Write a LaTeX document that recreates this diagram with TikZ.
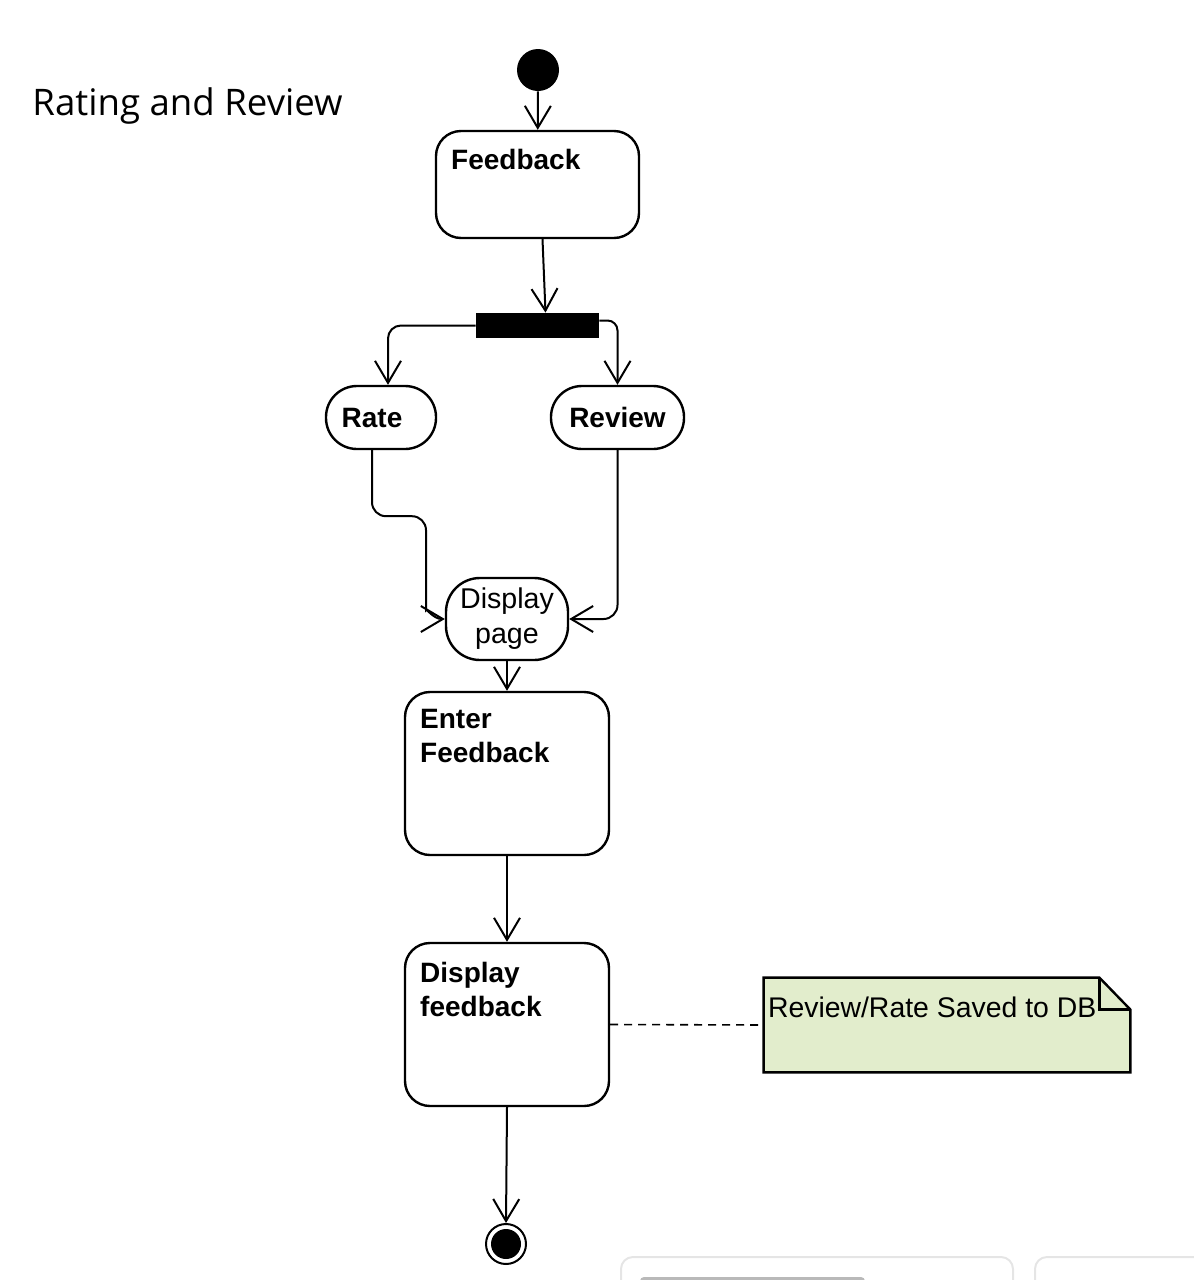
\documentclass[tikz,border=0pt]{standalone}
\usepackage{fontspec}
\setmainfont{Liberation Sans}
\newfontfamily\titlefont{Open Sans}
\usetikzlibrary{arrows.meta}
\definecolor{notegreen}{RGB}{226,237,204}
\begin{document}
\begin{tikzpicture}[x=0.5pt,y=-0.5pt,every node/.style={font=\fontsize{14}{17}\selectfont},
  act/.style={draw,line width=1.2pt,rounded corners=12.5pt,inner sep=0pt,minimum width=102pt},
  pill/.style={draw,line width=1.2pt,rounded corners=15.5pt,minimum height=31.5pt,inner sep=0pt,font=\fontsize{14}{17}\selectfont\bfseries},
  boxtxt/.style={anchor=north west,inner sep=0pt,align=left,font=\fontsize{14}{17}\selectfont\bfseries},
  flow/.style={line width=1pt,-{Straight Barb[length=11pt,width=13pt]}}]
  \useasboundingbox (0,0) rectangle (1194,1280);
  \node[anchor=base west,inner sep=0pt,font=\titlefont\fontsize{18.3}{22}\selectfont] (title) at (32,115) {Rating and Review};
  \node[circle,fill,minimum size=21pt,inner sep=0pt] (init) at (538,70) {};
  \node[act,minimum height=53.5pt,minimum width=101.5pt] (fb) at (537.5,184.5) {};
  \node[boxtxt] (fbt) at ([shift={(16,19)}]fb.north west) {Feedback};
  \node[fill,minimum width=61.5pt,minimum height=12.5pt,inner sep=0pt] (fork) at (537.5,325.5) {};
  \node[pill,minimum width=55pt] (rate) at (381,417.5) {Rate\hspace*{9pt}};
  \node[pill,minimum width=66.5pt] (rev) at (617.5,417.5) {Review};
  \node[draw,line width=1.2pt,rounded corners=17pt,minimum width=61pt,minimum height=41pt,inner sep=0pt,align=center,font=\fontsize{14.3}{17.5}\selectfont] (disp) at (507,619) {Display\\page};
  \node[act,minimum height=81.5pt] (enter) at (507,773.5) {};
  \node[boxtxt] (entt) at ([shift={(16,18)}]enter.north west) {Enter\\Feedback};
  \node[act,minimum height=81.5pt] (show) at (507,1024.5) {};
  \node[boxtxt] (shwt) at ([shift={(16,20)}]show.north west) {Display\\feedback};
  \node[fill=notegreen,minimum width=183pt,minimum height=47pt,inner sep=0pt] (note) at (947,1025) {};
  \fill[white] ([xshift=-15.5pt]note.north east) -- (note.north east) -- ([yshift=-16pt]note.north east) -- cycle;
  \draw[line width=1.2pt] (note.north west) -- ([xshift=-15.5pt]note.north east) -- ([yshift=-16pt]note.north east) -- (note.south east) -- (note.south west) -- cycle;
  \draw[line width=1.2pt] ([xshift=-15.5pt]note.north east) |- ([yshift=-16pt]note.north east);
  \node[anchor=north west,inner sep=0pt,font=\fontsize{14.2}{17}\selectfont] (notet) at ([shift={(4,19)}]note.north west) {Review/Rate Saved to DB};
  \node[circle,draw,line width=1pt,minimum size=20pt,inner sep=0pt] (fin) at (506,1244) {};
  \fill (fin) circle (7.5pt);
  \draw[flow] (init) -- (fb);
  \draw[flow] ([xshift=2.5pt]fb.south) -- ([xshift=4pt]fork.north);
  \draw[flow,rounded corners=6.5pt] (fork.west) -| ([xshift=3.5pt]rate.north);
  \draw[flow,rounded corners=5pt] ([yshift=2.5pt]fork.east) -| (rev.north);
  \draw[flow,rounded corners=7pt] ([xshift=-4.5pt]rate.south) |- ++(54,66) -- ++(0,80) to[out=-90,in=180] (disp.west);
  \draw[flow,rounded corners=7pt] (rev.south) |- (disp.east);
  \draw[flow] (disp) -- (enter);
  \draw[flow] (enter) -- (show);
  \draw[flow] (show.south) -- (fin.north);
  \draw[line width=0.8pt,dash pattern=on 4pt off 3pt] (show.east) -- (note.west);
  \draw[gray!20,line width=1pt,rounded corners=6pt] (621,1290) |- (1013,1257) -- (1013,1290);
  \draw[gray!20,line width=1pt,rounded corners=6pt] (1035,1290) |- (1200,1257);
  \fill[gray!55,rounded corners=2pt] (640,1277) rectangle (865,1286);
\end{tikzpicture}
\end{document}
